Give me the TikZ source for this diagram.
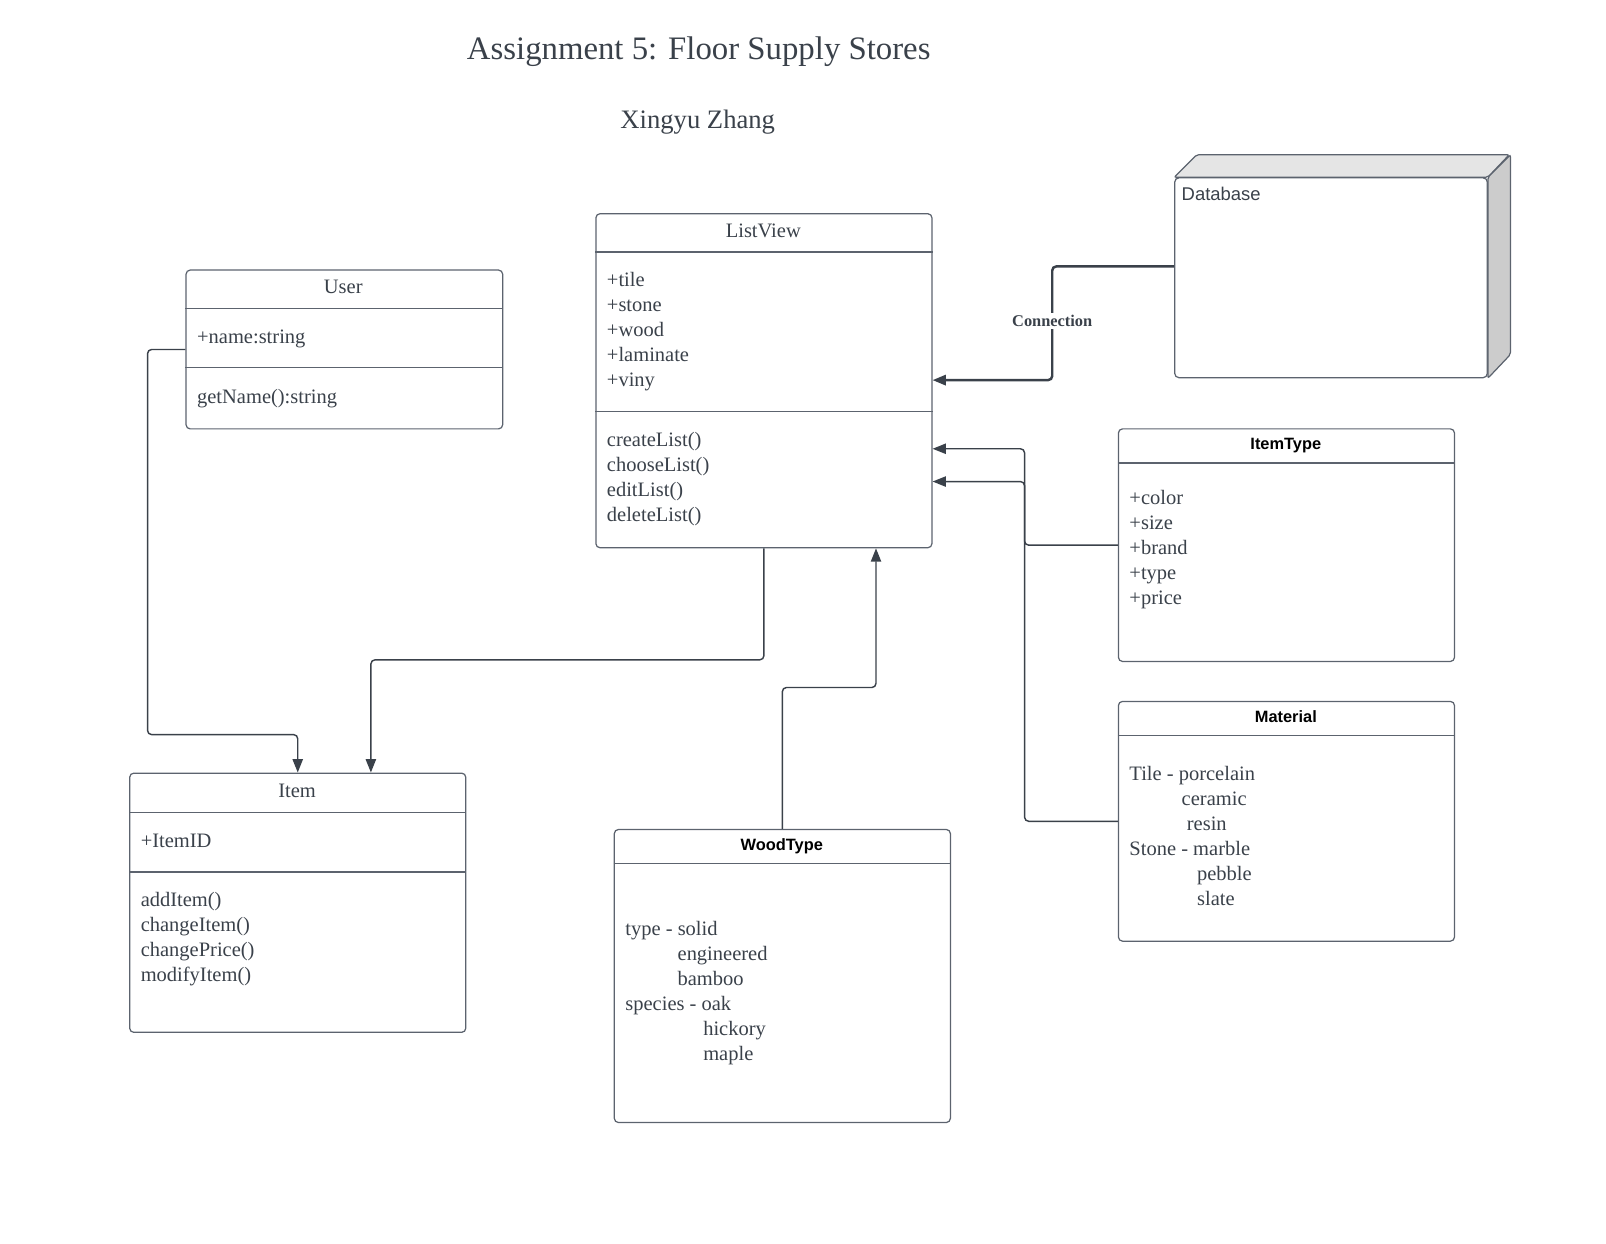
\documentclass[tikz,border=0pt]{standalone}
\usepackage{fontspec}
\setmainfont{Liberation Serif}
\setsansfont{Liberation Sans}
\usetikzlibrary{arrows.meta}
\definecolor{ink}{HTML}{3A414A}
\definecolor{edge}{HTML}{5C636E}
\begin{document}
\begin{tikzpicture}[x=0.5pt,y=-0.5pt,
  box/.style={draw=edge,line width=0.6pt,rounded corners=2pt,anchor=north west,inner sep=0},
  sep/.style={draw=edge,line width=0.6pt},
  conn/.style={draw=ink,line width=0.7pt,rounded corners=2pt,-{Triangle[length=6.5pt,width=5pt]}},
  txt/.style={anchor=base west,inner sep=0,text=ink,font=\fontsize{10}{12}\selectfont},
  head/.style={anchor=base,inner sep=0,text=ink,font=\fontsize{10}{12}\selectfont},
  bhead/.style={anchor=base,inner sep=0,font=\sffamily\bfseries\fontsize{8}{9.5}\selectfont}]
  \useasboundingbox (0,0) rectangle (1567.5,1214); %page
  \node[text=ink,font=\fontsize{16}{19}\selectfont] (title) at (682,50) {Assignment 5: Floor Supply Stores};
  \node[text=ink,font=\fontsize{13}{15.5}\selectfont] (author) at (681,119) {Xingyu Zhang};

  % ListView
  \node[box,minimum width=164pt,minimum height=163pt] (lv) at (581,208) {};
  \draw[sep] (lv.west |- 0,246) -- (lv.east |- 0,246);
  \draw[sep] (lv.west |- 0,402) -- (lv.east |- 0,402);
  \node[head] (lvh) at (745,232) {ListView};
  \foreach \t [count=\i from 0] in {+tile,+stone,+wood,+laminate,+viny}
    \node[txt] (lva\i) at (592,280+24.4*\i) {\t};
  \foreach \t [count=\i from 0] in {createList(),chooseList(),editList(),deleteList()}
    \node[txt] (lvm\i) at (592,436+24.4*\i) {\t};

  % User
  \node[box,minimum width=154.5pt,minimum height=77.5pt] (user) at (181,263) {};
  \draw[sep] (user.west |- 0,301) -- (user.east |- 0,301);
  \draw[sep] (user.west |- 0,359) -- (user.east |- 0,359);
  \node[head] (userh) at (335,286) {User};
  \node[txt] (usera) at (192,335) {+name:string};
  \node[txt] (userm) at (192,394) {getName():string};

  % Item
  \node[box,minimum width=164pt,minimum height=126.5pt] (item) at (126,754) {};
  \draw[sep] (item.west |- 0,793) -- (item.east |- 0,793);
  \draw[sep] (item.west |- 0,851) -- (item.east |- 0,851);
  \node[head] (itemh) at (290,778) {Item};
  \node[txt] (itema) at (137,827) {+ItemID};
  \foreach \t [count=\i from 0] in {addItem(),changeItem(),changePrice(),modifyItem()}
    \node[txt] (itemm\i) at (137,885+24.4*\i) {\t};

  % WoodType
  \node[box,minimum width=164pt,minimum height=143pt] (wood) at (599,809) {};
  \draw[sep] (wood.west |- 0,843) -- (wood.east |- 0,843);
  \node[bhead] (woodh) at (763,830) {WoodType};
  \foreach \x/\t [count=\i from 0] in {610/type - solid,661/engineered,661/bamboo,610/species - oak,686/hickory,686/maple}
    \node[txt] (wooda\i) at (\x,913+24.4*\i) {\t};

  % ItemType
  \node[box,minimum width=164pt,minimum height=113.5pt] (itype) at (1091,418) {};
  \draw[sep] (itype.west |- 0,452) -- (itype.east |- 0,452);
  \node[bhead] (itypeh) at (1255,439) {ItemType};
  \foreach \t [count=\i from 0] in {+color,+size,+brand,+type,+price}
    \node[txt] (itypea\i) at (1102,492+24.4*\i) {\t};

  % Material
  \node[box,minimum width=164pt,minimum height=117pt] (mat) at (1091,684) {};
  \draw[sep] (mat.west |- 0,718) -- (mat.east |- 0,718);
  \node[bhead] (math) at (1255,705) {Material};
  \foreach \x/\t [count=\i from 0] in {1102/Tile - porcelain,1153/ceramic,1158/resin,1102/Stone - marble,1168/pebble,1168/slate}
    \node[txt] (mata\i) at (\x,762+24.4*\i) {\t};

  % Database
  \node[box,minimum width=152.5pt,minimum height=97.5pt] (db) at (1146,173) {};
  \filldraw[fill=gray!20,draw=edge,line width=0.6pt,rounded corners=1pt] (db.north west) -- ++(22,-22) -- ++(305,0) -- (db.north east) -- cycle; %top
  \filldraw[fill=gray!40,draw=edge,line width=0.6pt,rounded corners=1pt] (db.north east) -- ++(22,-22) -- ++(0,195) -- (db.south east) -- cycle; %side
  \node[anchor=base west,inner sep=0,text=ink,font=\sffamily\fontsize{9}{11}\selectfont] (dbh) at (1153,196) {Database};

  % connectors
  \draw[conn,line width=1.2pt] (db.west |- 0,260) -| (1027,371) -- (lv.east |- 0,371);
  \node[fill=white,inner sep=1pt,text=ink,font=\bfseries\fontsize{8}{9.5}\selectfont] (clbl) at (1027,313) {Connection};
  \draw[conn] (itype.west) -| (1000,438) -- (lv.east |- 0,438);
  \draw[conn] (mat.west) -| (1000,470) -- (lv.east |- 0,470);
  \draw[conn] (wood.north) |- (855,671) -- (lv.south -| 855,0);
  \draw[conn] (lv.south) |- (362,644) -- (item.north -| 362,0);
  \draw[conn] (user.west) -| (144,717) -| (item.north);
\end{tikzpicture}
\end{document}
